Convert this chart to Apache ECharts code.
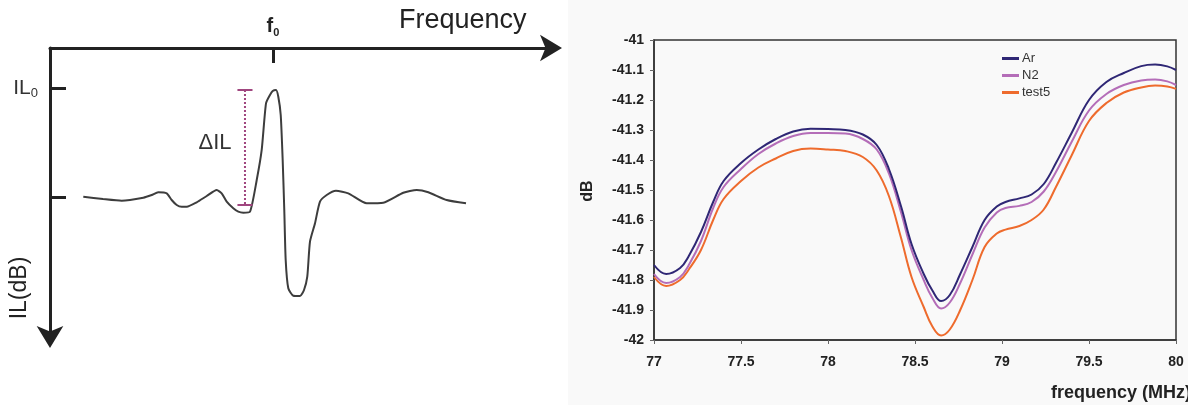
<!DOCTYPE html>
<html>
<head>
<meta charset="utf-8">
<script src="https://cdn.jsdelivr.net/npm/echarts@6/dist/echarts.min.js"></script>
<style>
  html, body { margin: 0; padding: 0; background: #fff; }
  #chart { width: 1188px; height: 405px; }
</style>
</head>
<body>
<div id="chart"></div>
<script>
// Right panel: measured insertion loss for three gases
const freq = [77.0, 77.07, 77.15, 77.2, 77.27, 77.34, 77.4, 77.5, 77.6, 77.7, 77.8, 77.9, 78.0, 78.1, 78.2,
  78.28, 78.35, 78.42, 78.48, 78.55, 78.6, 78.65, 78.7, 78.76, 78.83, 78.9, 78.97, 79.02, 79.1, 79.17,
  79.24, 79.31, 79.4, 79.5, 79.6, 79.7, 79.8, 79.88, 79.95, 80.0];
const arDb = [-41.75, -41.78, -41.76, -41.72, -41.64, -41.54, -41.47, -41.41, -41.365, -41.33, -41.305, -41.296, -41.297, -41.30, -41.315,
  -41.35, -41.43, -41.555, -41.68, -41.78, -41.835, -41.87, -41.85, -41.78, -41.69, -41.60, -41.555, -41.54, -41.528, -41.515,
  -41.48, -41.41, -41.31, -41.20, -41.14, -41.11, -41.087, -41.082, -41.088, -41.10];
const n2Db = [-41.78, -41.81, -41.79, -41.75, -41.67, -41.56, -41.49, -41.43, -41.38, -41.345, -41.32, -41.31, -41.31, -41.312, -41.33,
  -41.365, -41.445, -41.575, -41.70, -41.80, -41.86, -41.895, -41.875, -41.81, -41.715, -41.625, -41.575, -41.56, -41.553, -41.54,
  -41.505, -41.44, -41.34, -41.235, -41.18, -41.15, -41.135, -41.132, -41.138, -41.15];
const test5Db = [-41.79, -41.82, -41.80, -41.765, -41.70, -41.60, -41.53, -41.47, -41.425, -41.395, -41.37, -41.362, -41.365, -41.37, -41.39,
  -41.435, -41.52, -41.66, -41.79, -41.89, -41.955, -41.985, -41.965, -41.90, -41.80, -41.69, -41.645, -41.632, -41.62, -41.60,
  -41.565, -41.49, -41.385, -41.27, -41.21, -41.175, -41.158, -41.152, -41.155, -41.163];
const seriesNames = ['Ar', 'N2', 'test5'];
const seriesColors = ['#2f2775', '#b46db8', '#ee6b2d'];

// Left panel: schematic resonance curve (arbitrary units, IL grows downward)
const sketchX = [6.63, 10.56, 14.28, 18.59, 20.26, 21.57, 23.25, 24.24, 25.24, 26.24, 27.23, 29.22, 31.22, 33.21, 34.20,
  35.20, 36.51, 37.51, 38.51, 39.84, 41.18, 42.17, 43.03, 43.82, 44.36, 45.02, 45.48, 45.96, 46.35, 46.67,
  46.95, 47.47, 48.47, 49.80, 50.60, 51.25, 51.79, 52.79, 53.78, 55.12, 56.97, 59.42, 63.09, 66.39, 70.38,
  73.05, 75.36, 79.02, 82.87];
const sketchIL = [51.45, 52.25, 52.84, 51.80, 50.87, 49.93, 50.28, 52.60, 54.33, 54.91, 54.91, 53.39, 51.21, 49.13, 50.28,
  53.18, 55.47, 56.64, 56.99, 56.64, 45.67, 35.29, 19.13, 16.26, 14.88, 14.53, 16.85, 23.18, 38.75, 56.06,
  73.36, 83.15, 85.71, 85.81, 83.74, 79.13, 67.02, 60.66, 53.18, 50.87, 49.38, 50.28, 53.74, 53.53, 50.07,
  49.13, 49.93, 52.60, 53.74];
const f0 = 44.42;
const il0 = 13.84;
const ilBase = 51.56;
const deltaX = 38.84;
const deltaTop = 14.53;
const deltaBottom = 54.33;
const capHalf = 1.5;

const chart = echarts.init(document.getElementById('chart'));
const font = 'Liberation Sans, Arial, sans-serif';

const measured = seriesNames.map((name, i) => {
  const vals = [arDb, n2Db, test5Db][i];
  return {
    name: name,
    type: 'line',
    xAxisIndex: 1,
    yAxisIndex: 1,
    data: freq.map((f, k) => [f, vals[k]]),
    smooth: 0.4,
    showSymbol: false,
    z: 5 - i,
    lineStyle: { color: seriesColors[i], width: 2 },
    itemStyle: { color: seriesColors[i] }
  };
});

const option = {
  animation: false,
  backgroundColor: '#ffffff',
  textStyle: { fontFamily: font },
  graphic: [
    { type: 'rect', z: -10, shape: { x: 568, y: 0, width: 620, height: 405 }, style: { fill: '#f9f9f9' } },
    { type: 'text', style: { x: 399, y: 21, text: 'Frequency', font: '27px ' + font, fill: '#222', textVerticalAlign: 'middle' } },
    { type: 'text', rotation: Math.PI / 2, x: 20, y: 288,
      style: { x: 0, y: 0, text: 'IL(dB)', font: '23px ' + font, fill: '#222', textAlign: 'center', textVerticalAlign: 'middle' } },
    { type: 'text', style: { x: 215, y: 143, text: '\u0394IL', font: '22px ' + font, fill: '#333', textAlign: 'center', textVerticalAlign: 'middle' } },
    { type: 'text', rotation: Math.PI / 2, x: 588, y: 191,
      style: { x: 0, y: 0, text: 'dB', font: 'bold 16px ' + font, fill: '#222', textAlign: 'center', textVerticalAlign: 'middle' } },
    { type: 'text', style: { x: 1051, y: 393, text: 'frequency (MHz)', font: 'bold 18px ' + font, fill: '#222', textVerticalAlign: 'middle' } }
  ],
  legend: {
    data: seriesNames,
    orient: 'vertical',
    left: 997,
    top: 47,
    itemGap: 4,
    itemWidth: 17,
    itemHeight: 3,
    icon: 'rect',
    textStyle: { fontSize: 13, color: '#333', fontFamily: font, padding: [0, 0, 0, -2] }
  },
  grid: [
    { left: 50, top: 48, width: 502, height: 289 },
    { left: 654, top: 40, width: 522, height: 300, show: true, borderColor: '#333', borderWidth: 1.5, backgroundColor: 'transparent' }
  ],
  xAxis: [
    {
      gridIndex: 0, type: 'value', position: 'top', min: 0, max: 100,
      axisLine: { onZero: false, lineStyle: { color: '#222', width: 3 }, symbol: ['none', 'arrow'], symbolSize: [20, 22], symbolOffset: [0, 10] },
      axisTick: { inside: true, length: 15, customValues: [f0], lineStyle: { color: '#222', width: 3 } },
      axisLabel: {
        customValues: [f0], margin: 10,
        formatter: () => '{f|f}{s|0}',
        rich: {
          f: { fontSize: 20, fontWeight: 'bold', color: '#222', fontFamily: font, lineHeight: 24 },
          s: { fontSize: 11, fontWeight: 'bold', color: '#222', fontFamily: font, lineHeight: 24, verticalAlign: 'bottom' }
        }
      },
      splitLine: { show: false }
    },
    {
      gridIndex: 1, type: 'value', min: 77, max: 80, interval: 0.5,
      axisLine: { onZero: false, lineStyle: { color: '#333', width: 1.5 } },
      axisTick: { show: true, length: 4, lineStyle: { color: '#666' } },
      axisLabel: { margin: 15, fontSize: 14, fontWeight: 'bold', color: '#222', fontFamily: font },
      splitLine: { show: false }
    }
  ],
  yAxis: [
    {
      gridIndex: 0, type: 'value', inverse: true, min: 0, max: 100,
      axisLine: { onZero: false, lineStyle: { color: '#222', width: 3 }, symbol: ['arrow', 'none'], symbolSize: [20, 22], symbolOffset: [-11, 0] },
      axisTick: { inside: true, length: 16, customValues: [il0, ilBase], lineStyle: { color: '#222', width: 3 } },
      axisLabel: {
        customValues: [il0], margin: 12,
        formatter: () => '{f|IL}{s|0}',
        rich: {
          f: { fontSize: 21, color: '#333', fontFamily: font, lineHeight: 24 },
          s: { fontSize: 13, color: '#333', fontFamily: font, lineHeight: 24, verticalAlign: 'bottom' }
        }
      },
      splitLine: { show: false }
    },
    {
      gridIndex: 1, type: 'value', min: -42, max: -41, interval: 0.1,
      axisLine: { onZero: false, lineStyle: { color: '#333', width: 1.5 } },
      axisTick: { show: true, length: 4, lineStyle: { color: '#666' } },
      axisLabel: { margin: 10, fontSize: 14, fontWeight: 'bold', color: '#222', fontFamily: font },
      splitLine: { show: false }
    }
  ],
  series: [
    {
      name: 'sketch',
      type: 'line',
      xAxisIndex: 0,
      yAxisIndex: 0,
      data: sketchX.map((x, k) => [x, sketchIL[k]]),
      smooth: 0.2,
      showSymbol: false,
      lineStyle: { color: '#3d3d3d', width: 2 }
    },
    {
      name: 'deltaIL',
      type: 'line',
      xAxisIndex: 0,
      yAxisIndex: 0,
      data: [[deltaX, deltaTop], [deltaX, deltaBottom]],
      showSymbol: false,
      lineStyle: { color: '#a0467f', width: 2, type: [2, 2] }
    },
    {
      name: 'deltaCaps',
      type: 'line',
      xAxisIndex: 0,
      yAxisIndex: 0,
      connectNulls: false,
      data: [[deltaX - capHalf, deltaTop], [deltaX + capHalf, deltaTop], '-', [deltaX - capHalf, deltaBottom], [deltaX + capHalf, deltaBottom]],
      showSymbol: false,
      lineStyle: { color: '#a0467f', width: 2 }
    }
  ].concat(measured)
};

chart.setOption(option);
</script>
</body>
</html>
